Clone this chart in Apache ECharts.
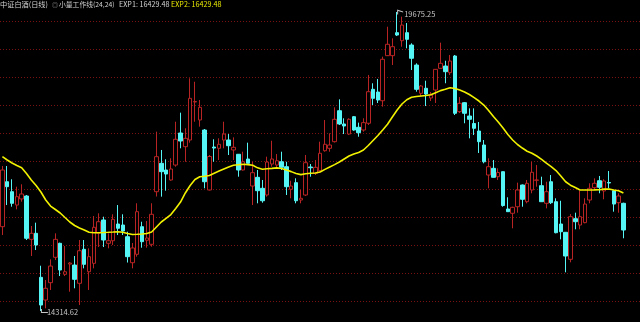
<!DOCTYPE html>
<html>
<head>
<meta charset="utf-8">
<script src="https://cdn.jsdelivr.net/npm/echarts@6/dist/echarts.min.js"></script>
<style>
html,body{margin:0;padding:0;background:#000;}
#c{width:640px;height:322px;}
</style>
</head>
<body>
<div id="c"></div>
<script>
const openArr = [15826,16632,16453,16214,16323,16376,15599,15707,14918,14511,
14822,15277,15528,14972,15156,15138,14811,15420,15018,15169,
15712,15946,15528,15574,15874,15856,15646,15180,15331,15826,
15582,15510,16453,16962,16842,16663,16931,17505,17260,17380,
18061,17739,17559,16484,17254,17231,17380,17380,17201,17124,
16842,17039,16555,16711,16514,16394,16949,16931,16990,16901,
16496,16615,16304,16394,16896,16783,16829,17188,17231,17350,
17905,17667,17487,17798,17608,17559,17680,18289,18240,18084,
18892,18892,19304,19160,19304,19083,18724,18217,18307,18133,
18276,18665,18706,18587,18886,17888,18049,17810,17676,17541,
17290,16752,16872,16722,16812,16143,16066,16184,16573,16274,
16484,16658,16561,16245,16632,16274,15874,15725,15241,15969,
15856,15898,16304,16525,16650,16466,16618,16471,16256,16245];

const closeArr = [16842,16543,16245,16364,16412,15618,15707,15497,14421,14721,
15120,15599,15049,15018,15174,14882,15395,15151,15288,15815,
15915,15587,15574,15958,15797,15748,15288,15444,16095,15557,
15623,16048,17081,16812,16770,16860,17393,17362,17410,18127,
18070,17966,16632,17084,17236,17303,17487,17278,17249,16842,
16990,16962,16794,16471,16291,16985,17039,17008,16890,16543,
16555,16291,16335,16973,16883,16890,17142,17303,17290,17751,
17667,17631,17751,17559,17511,17691,18246,18127,18097,18827,
19096,19053,19262,19441,19185,18845,18289,18348,18204,18186,
18647,18755,18605,18796,17859,18038,17859,17751,17590,17350,
16990,16901,16711,16797,16205,16095,16173,16484,16317,16604,
16801,16663,16274,16453,16256,15718,15736,15300,16005,15915,
16005,16232,16514,16604,16532,16645,16609,16232,16376,15766];

const lowArr = [15676,16214,16184,16137,16274,15587,15300,15408,14314.62,14362,
14691,15228,14941,14941,14660,14721,14421,15079,14691,15079,
15461,15461,15438,15497,15676,15676,15183,15079,15288,15449,
15449,15467,16367,16364,16471,16650,16901,17231,16990,17332,
17708,17619,16514,16475,16990,17021,17231,17111,17021,16722,
16833,16958,16214,16245,16256,16364,16901,16890,16842,16394,
16335,16245,16245,16376,16722,16752,16812,17170,17170,17335,
17649,17487,17469,17546,17439,17529,17649,18007,18043,17977,
18886,18724,19244,19053,19024,18635,18246,18168,17989,18079,
18043,18661,18397,18545,17828,17864,17680,17410,17469,17147,
16962,16514,16708,16663,16184,16089,15797,16077,16184,16245,
16425,16543,16268,16155,16232,15707,15599,15008,15187,15779,
15779,15887,16245,16484,16425,16317,16514,16095,16077,15618];

const highArr = [16914,16914,16676,16543,16586,16394,15838,15898,15126,14870,
15241,15707,15539,15479,15192,15300,15587,15587,15438,16017,
16066,16005,15707,16048,16214,16048,15736,15533,16245,15915,
15928,16245,17529,17201,17034,17052,17708,17870,17590,18486,
18425,18097,17577,17111,17393,17410,17708,17487,17428,17129,
17170,17332,16990,16842,16663,17081,17367,17129,17170,16990,
16650,16693,16484,17111,16949,17021,17350,17739,17500,17966,
18109,17769,17769,17810,17691,17769,18546,18397,18474,18874,
19411,19203,19675.25,19591,19477,19114,18755,18366,18443,18240,
18653,19125,18801,18904,18904,18150,18061,17948,17948,17703,
17380,17052,17021,16872,16815,16353,16184,16615,16582,16663,
16990,16931,16722,16632,16752,16335,16291,15730,16053,16077,
16471,16335,16604,16693,16735,16676,16824,16475,16425,16256];

const exp2Arr = [17081,17021,16967,16922,16883,16779,16663,16564,16448,16304,
16196,16134,16071,15990,15910,15847,15803,15766,15725,15718,
15718,15721,15725,15730,15736,15725,15703,15685,15689,15694,
15703,15730,15820,15910,15973,16044,16152,16268,16430,16564,
16672,16722,16731,16743,16785,16824,16860,16896,16928,16937,
16944,16939,16928,16881,16855,16865,16872,16881,16869,16842,
16813,16779,16759,16774,16783,16788,16806,16853,16896,16939,
16985,17039,17093,17129,17156,17201,17281,17371,17461,17559,
17662,17792,17918,18025,18102,18147,18159,18168,18177,18190,
18228,18265,18290,18318,18303,18278,18240,18195,18141,18079,
18007,17909,17801,17703,17595,17478,17380,17299,17236,17179,
17142,17093,17034,16967,16904,16833,16736,16631,16570,16527,
16484,16484,16484,16486,16489,16500,16502,16484,16471,16429.48];

const headerTitle = '中证白酒(日线)';
const headerIcon = '◎';
const headerIndicator = '小量工作线(24,24)';
const headerExp1 = 'EXP1: 16429.48';
const headerExp2 = 'EXP2: 16429.48';
const highLabel = '19675.25';
const lowLabel = '14314.62';
const priceMin = 14117;
const priceMax = 19890;

const categories = openArr.map((_, i) => String(i + 1));
const candleData = openArr.map((o, i) => [o, closeArr[i], lowArr[i], highArr[i]]);
let hiIdx = 0, loIdx = 0;
highArr.forEach((v, i) => { if (v > highArr[hiIdx]) hiIdx = i; });
lowArr.forEach((v, i) => { if (v < lowArr[loIdx]) loIdx = i; });

const chart = echarts.init(document.getElementById('c'), null, {renderer: 'canvas'});
const fontFam = '"Noto Sans CJK SC", "Noto Sans", sans-serif';
chart.setOption({
  backgroundColor: '#000000',
  animation: false,
  grid: [
    {left: -0.7, right: 14.2, top: 0, bottom: 0, show: false},
    {left: 0, right: 0, top: 21, bottom: 21, show: false}
  ],
  xAxis: [
    {type: 'category', data: categories, gridIndex: 0, boundaryGap: true, show: false},
    {type: 'value', gridIndex: 1, min: 0, max: 1, show: false}
  ],
  yAxis: [
    {type: 'value', gridIndex: 0, min: priceMin, max: priceMax, show: false, splitLine: {show: false}},
    {type: 'value', gridIndex: 1, min: 0, max: 10, interval: 1, show: true,
      axisLine: {show: false}, axisTick: {show: false}, axisLabel: {show: false},
      splitLine: {show: true, lineStyle: {color: '#7a1212', type: [1, 2], width: 1}}}
  ],
  graphic: [
    {type: 'text', left: 0, top: 1, style: {text: headerTitle, fill: '#d2d2d2', font: '7.2px ' + fontFam}},
    {type: 'text', left: 52, top: 1.5, style: {text: headerIcon, fill: '#9a9a9a', font: '6px ' + fontFam}},
    {type: 'text', left: 59, top: 1, style: {text: headerIndicator, fill: '#d2d2d2', font: '6.8px ' + fontFam}},
    {type: 'text', left: 119, top: 1, style: {text: headerExp1, fill: '#d2d2d2', font: '7.2px ' + fontFam}},
    {type: 'text', left: 171, top: 1, style: {text: headerExp2, fill: '#e8e800', font: '7.2px ' + fontFam}}
  ],
  series: [
    {
      type: 'candlestick',
      xAxisIndex: 0, yAxisIndex: 0,
      data: candleData,
      barWidth: 4,
      itemStyle: {
        color: '#000000',
        borderColor: '#b82424',
        color0: '#55f5f5',
        borderColor0: '#55f5f5',
        borderWidth: 1
      },
      markPoint: {
        silent: true,
        data: [
          {coord: [hiIdx, highArr[hiIdx]], symbol: 'path://M0,0 L6,2 L6,3 L1,1.4 L1,5 L0,5 Z',
            symbolSize: [6, 5], symbolOffset: [3, 0],
            label: {show: true, formatter: highLabel, position: 'right', distance: 2, offset: [-1, 2],
              color: '#c4c4c4', fontSize: 7.5, fontFamily: fontFam},
            itemStyle: {color: '#c4c4c4'}},
          {coord: [loIdx, lowArr[loIdx]], symbol: 'path://M0,0 L1,0 L1,3 L7,3 L7,4 L0,4 Z',
            symbolSize: [7, 4], symbolOffset: [3.5, 0],
            label: {show: true, formatter: lowLabel, position: 'right', distance: 0, offset: [-1, 1],
              color: '#c4c4c4', fontSize: 7.5, fontFamily: fontFam},
            itemStyle: {color: '#c4c4c4'}}
        ]
      }
    },
    {
      type: 'line',
      xAxisIndex: 0, yAxisIndex: 0,
      data: exp2Arr,
      symbol: 'none',
      smooth: false,
      lineStyle: {color: '#f2f200', width: 1.6},
      z: 5
    }
  ]
});
</script>
</body>
</html>
